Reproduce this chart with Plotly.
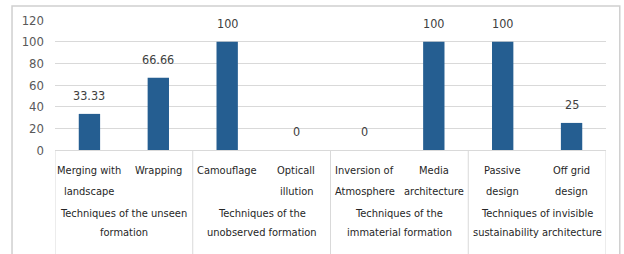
import plotly.graph_objects as go

categories = ["Merging with<br>landscape", "Wrapping", "Camouflage", "Opticall<br>illution",
              "Inversion of<br>Atmosphere", "Media<br>architecture", "Passive<br>design", "Off grid<br>design"]
values = [33.33, 66.66, 100, 0, 0, 100, 100, 25]
value_labels = ["33.33", "66.66", "100", "0", "0", "100", "100", "25"]
groups = ["Techniques of the unseen<br>formation", "Techniques of the<br>unobserved formation",
          "Techniques of the<br>immaterial formation", "Techniques of invisible<br>sustainability architecture"]
y_ticks = [0, 20, 40, 60, 80, 100, 120]

FONT = "DejaVu Sans Condensed, Liberation Sans Narrow, sans-serif"
TXT = "#262626"

fig = go.Figure()
fig.add_trace(go.Bar(
    x=list(range(len(categories))), y=values,
    marker=dict(color="#255E91", line=dict(width=0)),
    hoverinfo="skip",
))

shapes = []
# outer chart border
shapes.append(dict(type="rect", xref="paper", yref="paper", x0=-0.078, x1=1.025, y0=-1.05, y1=1.108,
                   line=dict(color="#D0D0D0", width=1.5), fillcolor="rgba(0,0,0,0)", layer="below"))
# group dividers
for xd in [-0.5, 1.5, 3.5, 5.5, 7.5]:
    shapes.append(dict(type="line", xref="x", yref="paper", x0=xd, x1=xd, y0=0, y1=-1.05,
                       line=dict(color="#D9D9D9", width=1)))

annotations = []
# value labels
for i, (v, t) in enumerate(zip(values, value_labels)):
    annotations.append(dict(x=i, xref="x", y=v, yref="y", yanchor="bottom", yshift=9,
                            text=t, showarrow=False,
                            font=dict(family=FONT, size=12.5, color="#404040")))
# category labels, one annotation per line
cat_line_y = [-0.154, -0.323]
for i, c in enumerate(categories):
    for j, line in enumerate(c.split("<br>")):
        annotations.append(dict(x=i, xref="x", y=cat_line_y[j], yref="paper", yanchor="middle",
                                text=line, showarrow=False,
                                font=dict(family=FONT, size=11, color=TXT)))
# group labels
grp_line_y = [-0.485, -0.631]
for i, g in enumerate(groups):
    for j, line in enumerate(g.split("<br>")):
        annotations.append(dict(x=2 * i + 0.5, xref="x", y=grp_line_y[j], yref="paper", yanchor="middle",
                                text=line, showarrow=False,
                                font=dict(family=FONT, size=11, color=TXT)))

fig.update_layout(
    width=624, height=254,
    margin=dict(l=55, r=18, t=20, b=104, autoexpand=False),
    paper_bgcolor="white", plot_bgcolor="white",
    showlegend=False, bargap=0.69,
    font=dict(family=FONT),
    xaxis=dict(range=[-0.5, 7.5], showgrid=False, showline=True, linecolor="#D9D9D9",
               showticklabels=False, ticks="", zeroline=False, automargin=False),
    yaxis=dict(range=[0, 120], tickvals=y_ticks, showgrid=True, gridcolor="#D9D9D9",
               zeroline=False, showline=False, ticks="", automargin=False,
               ticklabelstandoff=10,
               tickfont=dict(family=FONT, size=13, color="#595959")),
    shapes=shapes, annotations=annotations,
)

fig.write_html("out.html", config={"displayModeBar": False},
               post_script="document.body.style.margin='0';")
